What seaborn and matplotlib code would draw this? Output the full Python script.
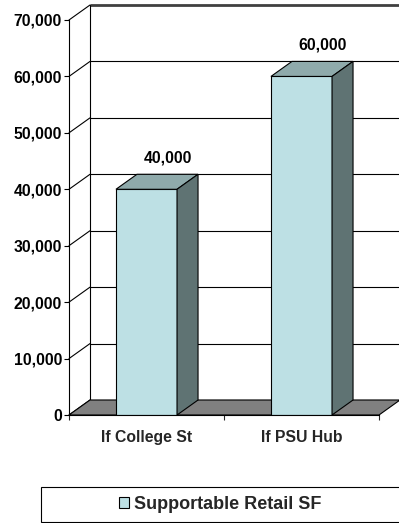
import matplotlib.pyplot as plt
import numpy as np
import pandas as pd
import seaborn as sns
from matplotlib.patches import Polygon, Rectangle, Patch
from matplotlib.ticker import FuncFormatter

## data
sites = ["If College St", "If PSU Hub"]
retail_sf = [40000, 60000]
series_name = "Supportable Retail SF"
y_ticks = [0, 10000, 20000, 30000, 40000, 50000, 60000, 70000]

# colours of the fake 3D bars
front_col = "#BDE0E4"
top_col = "#8FAAAB"
side_col = "#5F7373"
floor_col = "#808080"

sns.set_theme(style="white")
plt.rcParams['font.family'] = ['Liberation Sans', 'DejaVu Sans']
plt.rcParams['font.weight'] = 'bold'

W, H = 399, 523
fig = plt.figure(figsize=(W / 100, H / 100), dpi=100)
# front plane of the plot box, in pixels: x 69..379, y 20..415
ax = fig.add_axes([69 / W, 1 - 415 / H, 310 / W, 395 / H])
ax.set_facecolor("none")

df = pd.DataFrame({"site": sites, "sf": retail_sf})
sns.barplot(data=df, x="site", y="sf", width=0.394, color=front_col, saturation=1,
            edgecolor="black", linewidth=0.8, errorbar=None, ax=ax, zorder=3)

ax.set_xlim(-0.5, 1.5)
ax.set_ylim(0, 70000)

# depth of the 3D box in data units (21 px right, 15 px up)
dx = 21 / 155
dy = 15 * 70000 / 395
x0, x1 = -0.5, 1.5

# back wall gridlines and left wall diagonals
for t in y_ticks:
    lw = 2.0 if t == y_ticks[-1] else 0.8
    col = "#404040" if t == y_ticks[-1] else "black"
    ax.plot([x0 + dx, x1 + dx + 0.05], [t + dy, t + dy], color=col, lw=lw,
            clip_on=False, zorder=0.5, solid_capstyle="butt")
    ax.plot([x0, x0 + dx], [t, t + dy], color="black", lw=0.8, clip_on=False, zorder=0.5)
ax.plot([x0 + dx, x0 + dx], [dy, y_ticks[-1] + dy], color="black", lw=0.8,
        clip_on=False, zorder=0.5)

# floor
floor = Polygon([(x0, 0), (x1, 0), (x1 + dx, dy), (x0 + dx, dy)], closed=True,
                facecolor=floor_col, edgecolor="black", lw=0.8, clip_on=False, zorder=1)
ax.add_patch(floor)

# top and side faces of each bar, plus value label
for bar, val in zip(ax.patches[:len(sites)], retail_sf):
    bx = bar.get_x()
    bw = bar.get_width()
    top = Polygon([(bx, val), (bx + bw, val), (bx + bw + dx, val + dy), (bx + dx, val + dy)],
                  closed=True, facecolor=top_col, edgecolor="black", lw=0.8,
                  clip_on=False, zorder=3)
    side = Polygon([(bx + bw, 0), (bx + bw + dx, dy), (bx + bw + dx, val + dy), (bx + bw, val)],
                   closed=True, facecolor=side_col, edgecolor="black", lw=0.8,
                   clip_on=False, zorder=3)
    ax.add_patch(top)
    ax.add_patch(side)
    ax.annotate(f"{val:,}", (bx + bw / 2 + dx, val + dy), xytext=(0, 11.5),
                textcoords="offset points", ha="center", va="center",
                fontsize=11.3, fontweight="bold", color="black")

# axes styling
for s in ["top", "right"]:
    ax.spines[s].set_visible(False)
for s in ["left", "bottom"]:
    ax.spines[s].set_color("black")
    ax.spines[s].set_linewidth(0.8)
    ax.spines[s].set_zorder(4)

ax.set_yticks(y_ticks)
ax.yaxis.set_major_formatter(FuncFormatter(lambda v, p: f"{int(v):,}"))
ax.tick_params(axis="y", left=True, length=3.6, width=0.8, pad=1.5,
               labelsize=11.3, colors="black")
ax.set_xticks([-0.5, 0.5, 1.5])
ax.set_xticklabels([])
ax.set_xticks([0, 1], minor=True)
ax.set_xticklabels(sites, minor=True, fontsize=11.3, fontweight="bold")
ax.tick_params(axis="x", which="major", bottom=True, length=3.6, width=0.8)
ax.tick_params(axis="x", which="minor", bottom=False, length=0, pad=11)
ax.set_xlabel("")
ax.set_ylabel("")
for lab in ax.get_yticklabels():
    lab.set_fontweight("bold")

# legend box across the bottom, running off the right edge
fig.add_artist(Rectangle((41 / W, 1 - 522 / H), (W - 41) / W + 0.1, 35 / H,
                         transform=fig.transFigure, facecolor="white",
                         edgecolor="black", lw=0.8, clip_on=False))
fig.legend(handles=[Patch(facecolor=front_col, edgecolor="black", lw=0.8)],
           labels=[series_name], loc="center", bbox_to_anchor=(220 / W, 1 - 504.5 / H),
           frameon=False, handlelength=0.6, handleheight=0.6, handletextpad=0.25,
           prop={"size": 13, "weight": "bold"})

fig.savefig("out.png", dpi=100)
